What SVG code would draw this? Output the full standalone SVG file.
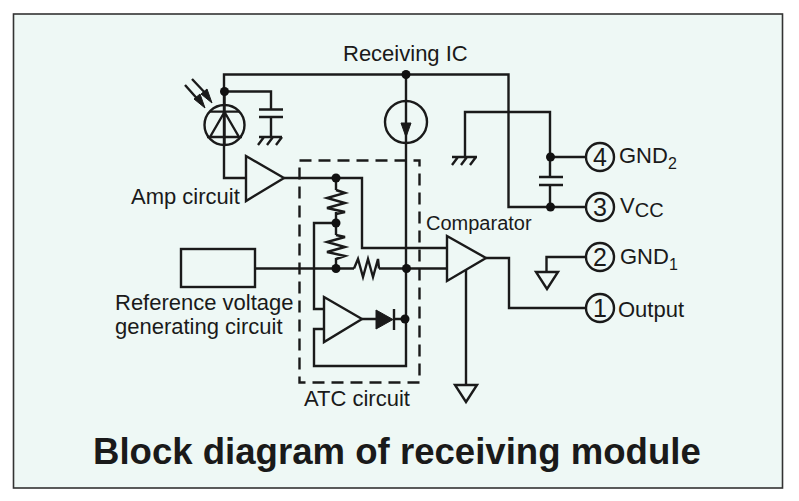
<svg xmlns="http://www.w3.org/2000/svg" width="799" height="501" viewBox="0 0 799 501">
<defs>
<style>
.w{fill:none;stroke:#1a1a1a;stroke-width:2.4;stroke-linejoin:miter}
.s{fill:#1a1a1a;stroke:#1a1a1a;stroke-width:1}
.p{fill:none;stroke:#1a1a1a;stroke-width:2.4}
text{font-family:"Liberation Sans",Arial,sans-serif;fill:#1a1a1a;font-size:22px}
.n{font-size:25px;text-anchor:middle}
.sub{font-size:16px}
</style>
<circle id="dot" r="4.5" fill="#111"/>
</defs>
<rect id="frame" x="13.5" y="14" width="769" height="474" fill="#eef8f5" stroke="#333" stroke-width="1.6"/>
<g id="connectors">
<path class="w" d="M224 91.500V74.500H508.500V207H586"/>
<path class="w" d="M224 91.500H271V109.500M271 117V137"/>
<path class="w" d="M224 91.500V178H246"/>
<path class="w" d="M284 178H362V248H447"/>
<path class="w" d="M336 178V190M336 212V223M336 223V235M336 258V268"/>
<path class="w" d="M336 223H314V309H324M324 329H314V366H406V74.500"/>
<path class="w" d="M255 268.500H354M379 268.500H447"/>
<path class="w" d="M362 319H376M394 319H406"/>
<path class="w" d="M486 258H509V308H586"/>
<path class="w" d="M466 270V385"/>
<path class="w" d="M465 157V112H550V177M550 185V207"/>
<path class="w" d="M550 157H586"/>
<path class="w" d="M586 257H546.500V272"/>
</g>
<g id="atc-circuit">
<rect x="299.500" y="160.500" width="120" height="222" fill="none" stroke="#1a1a1a" stroke-width="2.400" stroke-dasharray="12 7"/>
<text x="304" y="406">ATC circuit</text>
</g>
<g id="photodiode">
<circle class="p" cx="224.500" cy="125" r="20"/>
<path class="p" d="M224.500 91.500V145M210 111.600H239M207 137H242M224.500 112L210 137M224.500 112L239 137"/>
<path class="p" d="M185 85L201 103M192 79L208 96"/>
<path class="s" d="M205 108L194 99L200 94ZM212 103L201 94L207 89Z"/>
</g>
<g id="capacitor-1">
<path class="p" d="M259 109.500H283M259 117H283M259 137H282M264 137L258 145M273 137L267 145M282 137L276 145"/>
</g>
<g id="amp">
<path class="w" d="M246 156L284 178L246 201Z"/>
<text x="131" y="204">Amp circuit</text>
</g>
<g id="current-source">
<circle class="p" cx="406" cy="122" r="21"/>
<path class="s" d="M401 123H411L406 137Z"/>
</g>
<g id="resistors">
<path class="w" d="M336 190L345 193L327 198L345 203L327 208L345 212L336 214"/>
<path class="w" d="M336 235L345 237L327 242L345 247L327 252L345 256L336 259"/>
<path class="w" d="M354 268.500L358 259L363 277L368 259L373 277L378 259L379 268.500"/>
</g>
<g id="reference">
<rect class="w" x="181" y="249" width="74" height="38"/>
<text x="115" y="310">Reference voltage</text>
<text x="115" y="334">generating circuit</text>
</g>
<g id="atc-amp">
<path class="w" d="M324 297L362 319L324 342Z"/>
<path class="s" d="M376 310V329L393 319.500Z"/>
<path class="p" d="M394 309V330"/>
</g>
<g id="comparator">
<path class="w" d="M447 236L486 258L447 281Z"/>
<text x="426" y="230" style="font-size:20px">Comparator</text>
<path class="w" d="M455 385H477L466 402Z"/>
</g>
<g id="dots">
<use href="#dot" x="406" y="74.500"/>
<use href="#dot" x="224.500" y="91.500"/>
<use href="#dot" x="336" y="178"/>
<use href="#dot" x="336" y="223"/>
<use href="#dot" x="336" y="268.500"/>
<use href="#dot" x="406.500" y="268.500"/>
<use href="#dot" x="405" y="319"/>
<use href="#dot" x="550.500" y="157"/>
<use href="#dot" x="550.500" y="207"/>
</g>
<g id="ground-2">
<path class="p" d="M452 157H477M458 157L452 165M467 157L461 165M476 157L470 165"/>
</g>
<g id="cap-2"><path class="p" d="M539 177H563M539 185H563"/></g>
<g id="gnd1-symbol"><path class="w" d="M536 272H558L547 289Z"/></g>
<text id="title-ic" x="343" y="61">Receiving IC</text>
<g id="pin-4"><circle class="p" cx="600" cy="157" r="14"/><text class="n" x="600" y="166">4</text><text x="619" y="163">GND<tspan class="sub" dy="6">2</tspan></text></g>
<g id="pin-3"><circle class="p" cx="600" cy="207" r="14"/><text class="n" x="600" y="216">3</text><text x="620" y="213">V<tspan class="sub" style="font-size:20px" dy="4">CC</tspan></text></g>
<g id="pin-2"><circle class="p" cx="600" cy="257" r="14"/><text class="n" x="600" y="266">2</text><text x="620" y="264">GND<tspan class="sub" dy="6">1</tspan></text></g>
<g id="pin-1"><circle class="p" cx="600" cy="308" r="14"/><text class="n" x="600" y="317">1</text><text x="618" y="317">Output</text></g>
<text id="caption" x="93" y="464" style="font-size:36.600px;font-weight:bold">Block diagram of receiving module</text>
</svg>
